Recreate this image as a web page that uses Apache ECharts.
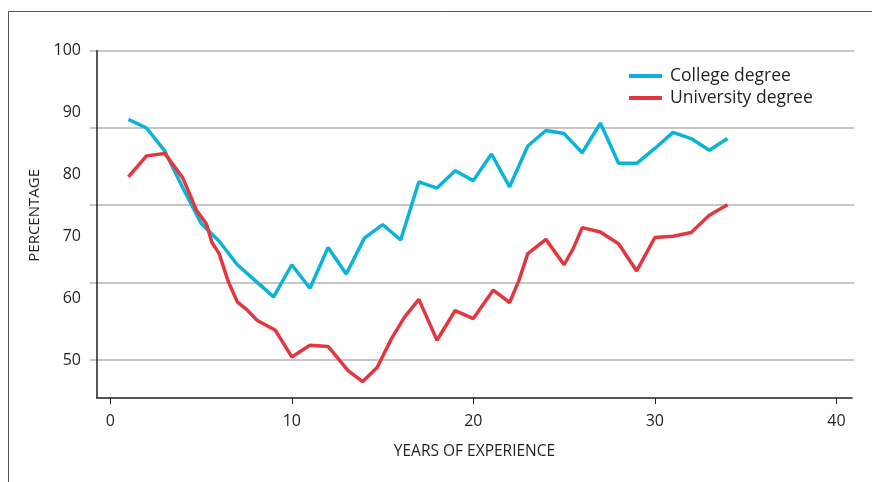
<!DOCTYPE html>
<html lang="en">
<head>
    <meta charset="UTF-8">
    <title>Percentage by years of experience</title>
    <style>
        html, body { margin: 0; padding: 0; background: #fff; }
    </style>
</head>
<body>

<div id="main" style="width: 872px;height:482px;"></div>

<script src="https://cdn.jsdelivr.net/npm/echarts@6/dist/echarts.min.js" charset="utf-8"></script>

<script type="text/javascript">
    // college degree, one point per year
    var collegeYears = [1, 2, 3, 4, 5, 6, 7, 8, 9, 10, 11, 12, 13, 14, 15, 16, 17,
        18, 19, 20, 21, 22, 23, 24, 25, 26, 27, 28, 29, 30, 31, 32, 33, 34];
    var collegeValues = [88.9, 87.5, 83.8, 77.8, 72.1, 69.2, 65.4, 62.8, 60.2, 65.4, 61.6, 68.2,
        63.9, 69.7, 71.9, 69.4, 78.8, 77.8, 80.6, 79.0, 83.3, 78.0, 84.6, 87.1,
        86.6, 83.5, 88.3, 81.8, 81.8, 84.2, 86.8, 85.8, 83.9, 85.8];

    // university degree has some extra points in between
    var uniYears = [1, 2, 3, 4, 4.75, 5.3, 5.6, 6, 6.5, 7, 7.5, 8.1, 9.1, 10, 11, 12, 13.1,
        13.9, 14.7, 15.5, 16.2, 17, 18, 19, 20, 21.1, 22, 22.5, 23, 24, 25, 25.5,
        26, 27, 28, 29, 30, 31, 32, 33, 34];
    var uniValues = [79.6, 83.0, 83.4, 79.4, 74.2, 72.0, 69.0, 67.2, 62.7, 59.4, 58.2, 56.4, 54.8,
        50.5, 52.4, 52.2, 48.3, 46.5, 48.8, 53.5, 56.9, 59.8, 53.2, 58.0, 56.7,
        61.3, 59.3, 62.8, 67.2, 69.5, 65.4, 68.0, 71.4, 70.7, 68.8, 64.4, 69.8,
        70.0, 70.6, 73.4, 75.1];

    var xTicks = [0, 10, 20, 30, 40];
    var yLabels = [50, 60, 70, 80, 90, 100];

    var seriesNames = ['College degree', 'University degree'];
    var seriesColors = ['#0bb3d9', '#e3363f'];

    function pairs(xs, ys) {
        var out = [];
        for (var i = 0; i < xs.length; i++) {
            out.push([xs[i], ys[i]]);
        }
        return out;
    }

    var font = '"Open Sans", "Noto Sans", sans-serif';
    var myChart = echarts.init(document.getElementById('main'), null, {renderer: 'canvas'});

    var option = {
        animation: false,
        backgroundColor: '#ffffff',
        textStyle: {fontFamily: font},
        graphic: [{
            type: 'rect',
            shape: {x: 8.5, y: 11.5, width: 1000, height: 1000},
            style: {fill: 'none', stroke: '#555', lineWidth: 1},
            silent: true
        }],
        legend: {
            orient: 'vertical',
            left: 624,
            top: 62,
            itemWidth: 33,
            itemHeight: 4,
            itemGap: 4,
            icon: 'rect',
            textStyle: {fontSize: 17.5, color: '#231f20', fontFamily: font, padding: [0, 0, 0, 3]},
            data: seriesNames
        },
        grid: [
            {left: 97, right: 20, top: 50.7, bottom: 84},
            // second grid only carries the horizontal rules
            {left: 90, right: 18, top: 50.7, height: 309}
        ],
        xAxis: [
            {
                type: 'value',
                gridIndex: 0,
                min: -0.73,
                max: 40.86,
                name: 'YEARS OF EXPERIENCE',
                nameLocation: 'middle',
                nameGap: 46,
                nameTextStyle: {fontSize: 15.5, color: '#231f20', fontFamily: font},
                axisLine: {onZero: false, lineStyle: {color: '#231f20', width: 1.5}},
                axisTick: {show: true, length: 6, customValues: xTicks, lineStyle: {color: '#231f20', width: 1}},
                axisLabel: {customValues: xTicks, fontSize: 16, color: '#231f20', margin: 15, fontFamily: font},
                splitLine: {show: false}
            },
            {
                type: 'value',
                gridIndex: 1,
                min: 0,
                max: 40,
                show: false
            }
        ],
        yAxis: [
            {
                type: 'value',
                gridIndex: 0,
                min: 43.86,
                max: 100,
                name: 'PERCENTAGE',
                nameLocation: 'middle',
                nameGap: 49,
                nameTextStyle: {fontSize: 15, color: '#231f20', fontFamily: font, padding: [0, 0, 0, 18]},
                axisLine: {show: true, onZero: false, lineStyle: {color: '#231f20', width: 1.5}},
                axisTick: {show: false},
                axisLabel: {customValues: yLabels, fontSize: 16, color: '#231f20', margin: 16, fontFamily: font},
                splitLine: {show: false}
            },
            {
                type: 'value',
                gridIndex: 1,
                min: 50,
                max: 100,
                interval: 12.5,
                axisLine: {show: false},
                axisTick: {show: false},
                axisLabel: {show: false},
                splitLine: {show: true, lineStyle: {color: '#b3b3b3', width: 1.5}}
            }
        ],
        series: [
            {
                name: seriesNames[0],
                type: 'line',
                xAxisIndex: 0,
                yAxisIndex: 0,
                data: pairs(collegeYears, collegeValues),
                symbol: 'none',
                color: seriesColors[0],
                lineStyle: {width: 3.5, color: seriesColors[0]},
                z: 3
            },
            {
                name: seriesNames[1],
                type: 'line',
                xAxisIndex: 0,
                yAxisIndex: 0,
                data: pairs(uniYears, uniValues),
                symbol: 'none',
                color: seriesColors[1],
                lineStyle: {width: 3.5, color: seriesColors[1]},
                z: 4
            }
        ]
    };

    myChart.setOption(option);
</script>
</body>

</html>
